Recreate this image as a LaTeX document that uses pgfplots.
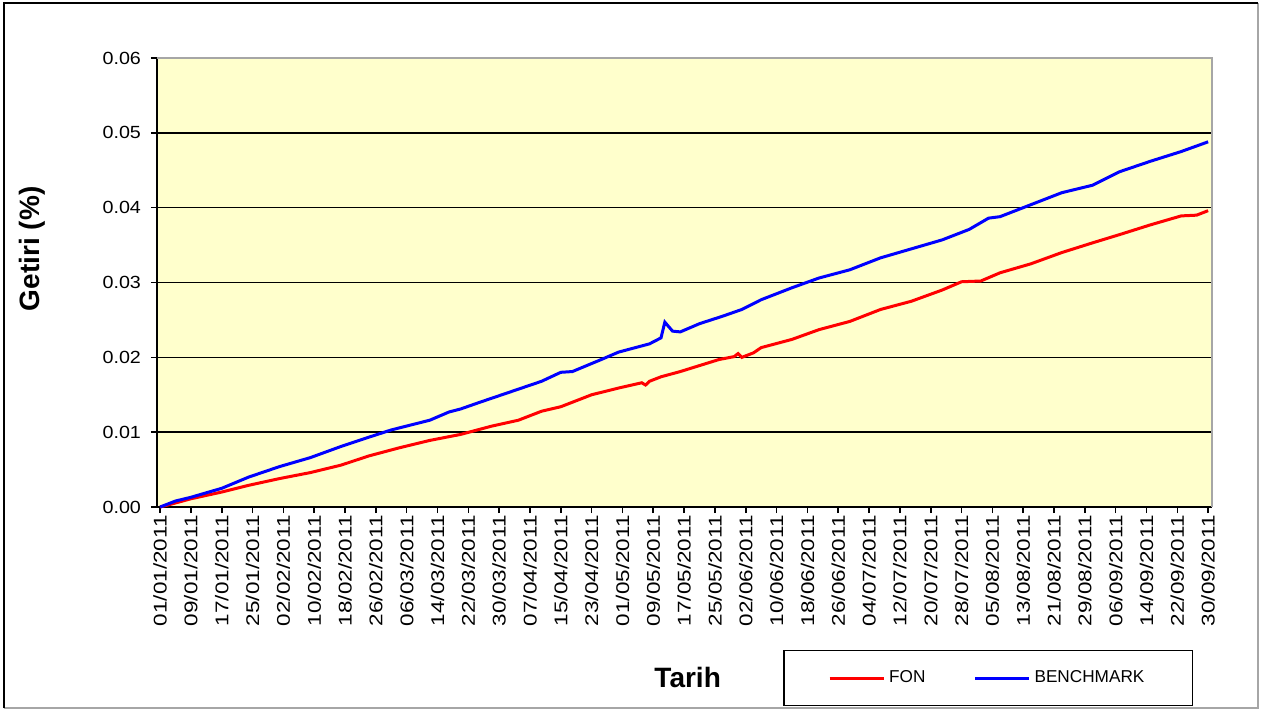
\documentclass[border=0pt]{standalone}
\usepackage{pgfplots}
\pgfplotsset{compat=1.18}
\usepackage{fontspec}
\setmainfont{Liberation Sans}
\newfontfamily\tickfont[FakeStretch=1.12]{Liberation Sans}
\newfontfamily\xtickfont[FakeStretch=1.22]{Liberation Sans}
\definecolor{plotbg}{HTML}{FFFFCC}
\definecolor{fonred}{HTML}{FF0000}
\definecolor{benchblue}{HTML}{0000FF}
\begin{document}
\begin{tikzpicture}
\useasboundingbox (0,0) rectangle (632pt,354.5pt);
\draw[gray!70, line width=0.6pt] (629pt,353pt) -- (629pt,0.5pt) -- (2pt,0.5pt);
\draw[black, line width=0.9pt] (2pt,0.5pt) -- (2pt,353pt) -- (629pt,353pt);
\begin{axis}[
  at={(78.5pt,101pt)}, anchor=south west,
  scale only axis, width=527.5pt, height=224.5pt,
  xmin=-0.8, xmax=273, ymin=0, ymax=0.06,
  axis background/.style={fill=plotbg},
  axis x line*=bottom, axis y line*=left,
  axis line style={black, line width=0.8pt},
  tick align=outside, tick style={black, line width=0.8pt},
  major tick length=3pt,
  scaled y ticks=false,
  ytick={0,0.01,...,0.06},
  ymajorgrids, grid style={black, line width=0.7pt},
  yticklabel style={font=\tickfont\fontsize{8.8}{10}\selectfont, xshift=-1.5pt, /pgf/number format/fixed, /pgf/number format/fixed zerofill, /pgf/number format/precision=2, /pgf/number format/assume math mode=true},
  xtick={0,8,...,272},
  xticklabels={01/01/2011,09/01/2011,17/01/2011,25/01/2011,02/02/2011,10/02/2011,18/02/2011,26/02/2011,06/03/2011,14/03/2011,22/03/2011,30/03/2011,07/04/2011,15/04/2011,23/04/2011,01/05/2011,09/05/2011,17/05/2011,25/05/2011,02/06/2011,10/06/2011,18/06/2011,26/06/2011,04/07/2011,12/07/2011,20/07/2011,28/07/2011,05/08/2011,13/08/2011,21/08/2011,29/08/2011,06/09/2011,14/09/2011,22/09/2011,30/09/2011},
  xticklabel style={font=\xtickfont\fontsize{9.2}{10}\selectfont, rotate=90, anchor=east, inner sep=1pt},
  xtick pos=bottom, ytick pos=left,
  legend style={at={(0.788,-0.381)}, anchor=center, draw=black, line width=0.8pt,
    fill=white, inner xsep=22pt, inner ysep=8pt,
    font=\fontsize{8.6}{10}\selectfont, legend columns=2,
    /tikz/every even column/.append style={column sep=22pt}},
  legend image code/.code={\draw[#1, line width=1.5pt] (0pt,0pt) -- (27pt,0pt);},
  clip=false,
]
\draw[gray!70, line width=0.6pt] (rel axis cs:0,1) -- (rel axis cs:1,1) -- (rel axis cs:1,0);
\addplot[fonred, line width=1.5pt] coordinates {
(0,0.0000) (3,0.0004) (8,0.0011) (16,0.0020) (23,0.0029) (31,0.0038) (39,0.0046)
(47,0.0056) (54,0.0068) (62,0.0079) (70,0.0089) (78,0.0097) (86,0.0108) (93,0.0116)
(99,0.0128) (104,0.0134) (112,0.0150) (119,0.0159) (125,0.0166) (126,0.0163) (127,0.0168) (130,0.0174)
(135,0.0181) (140,0.0189) (145,0.0197) (149,0.0201) (150,0.0205) (151,0.0200) (154,0.0206)
(156,0.0213) (164,0.0224) (171,0.0237) (179,0.0248) (187,0.0264) (195,0.0275)
(203,0.0290) (208,0.0301) (213,0.0302) (218,0.0313) (226,0.0325) (234,0.0340)
(242,0.0353) (249,0.0364) (257,0.0377) (265,0.0389) (269,0.0390) (272,0.0396)
};
\addlegendentry{FON}
\addplot[benchblue, line width=1.5pt] coordinates {
(0,0.0000) (2,0.0004) (4,0.0008) (8,0.0013) (16,0.0025) (23,0.0040) (31,0.0054)
(39,0.0066) (47,0.0081) (54,0.0093) (60,0.0103) (70,0.0116) (75,0.0127) (78,0.0131)
(83,0.0140) (91,0.0154) (99,0.0168) (104,0.0180) (107,0.0181) (114,0.0196)
(119,0.0207) (127,0.0218) (130,0.0226) (131,0.0247) (133,0.0235) (135,0.0234)
(140,0.0245) (146,0.0255) (151,0.0264) (156,0.0277) (164,0.0293) (171,0.0306)
(179,0.0317) (187,0.0333) (195,0.0345) (203,0.0357) (210,0.0371) (215,0.0386)
(218,0.0388) (226,0.0404) (234,0.0420) (242,0.0430) (249,0.0448) (257,0.0462)
(265,0.0475) (272,0.0488)
};
\addlegendentry{BENCHMARK}
\node[rotate=90, font=\bfseries\fontsize{14}{16}\selectfont] at (rel axis cs:-0.1185,0.575) {Getiri (\%)};
\node[font=\bfseries\fontsize{14}{16}\selectfont] at (rel axis cs:0.503,-0.3786) {Tarih};
\end{axis}
\end{tikzpicture}
\end{document}
